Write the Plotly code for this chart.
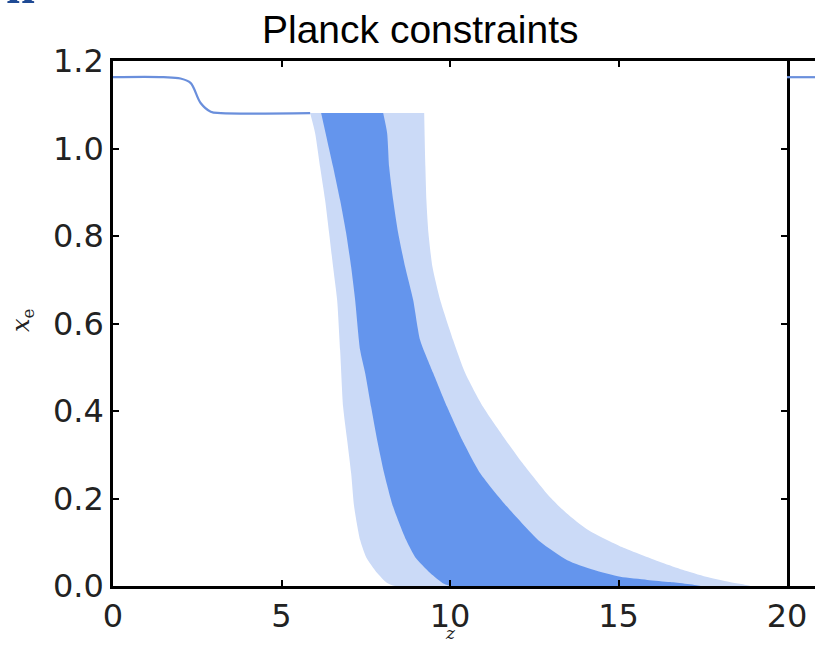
import plotly.graph_objects as go

# Fiducial ionisation history (helium double reionisation step at low z)
line_z = [0.0, 1.5, 2.0, 2.3, 2.6, 2.9, 3.2, 5.85]
line_xe = [1.163, 1.163, 1.160, 1.150, 1.104, 1.084, 1.081, 1.081]

# 95% band (light) edges
outer_left_z = [5.849, 5.998, 6.146, 6.295, 6.413, 6.532, 6.651, 6.740, 6.829, 6.948,
                7.067, 7.156, 7.334, 7.512, 7.838, 8.135, 8.373]
outer_left_xe = [1.081, 1.035, 0.958, 0.882, 0.807, 0.729, 0.654, 0.539, 0.409, 0.334,
                 0.258, 0.181, 0.105, 0.066, 0.030, 0.007, 0.0]
outer_right_z = [9.234, 9.250, 9.270, 9.300, 9.360, 9.480, 9.709, 10.095, 10.451, 10.986,
                 11.650, 12.150, 12.550, 12.970, 13.450, 14.100, 15.100, 16.300, 16.900,
                 17.600, 18.300, 18.900]
outer_right_xe = [1.081, 1.019, 0.958, 0.882, 0.807, 0.729, 0.654, 0.562, 0.487, 0.409,
                  0.334, 0.281, 0.242, 0.203, 0.167, 0.128, 0.089, 0.053, 0.037,
                  0.021, 0.009, 0.0]

# 68% band (dark) edges
inner_left_z = [6.176, 6.354, 6.532, 6.740, 6.918, 7.067, 7.185, 7.334, 7.482, 7.660,
                7.838, 8.046, 8.313, 8.700, 8.967, 9.412, 9.822, 10.036]
inner_left_xe = [1.081, 1.019, 0.958, 0.882, 0.807, 0.729, 0.654, 0.539, 0.487, 0.409,
                 0.334, 0.258, 0.181, 0.105, 0.066, 0.030, 0.005, 0.0]
inner_right_z = [8.017, 8.135, 8.195, 8.314, 8.462, 8.670, 8.907, 9.115, 9.501, 9.917,
                 10.362, 10.897, 11.698, 12.678, 13.480, 14.252, 15.054, 15.855, 16.538,
                 17.429]
inner_right_xe = [1.081, 1.035, 0.958, 0.882, 0.807, 0.729, 0.654, 0.562, 0.487, 0.409,
                  0.334, 0.258, 0.181, 0.101, 0.059, 0.037, 0.021, 0.014, 0.009,
                  0.0]

# Neighbouring panel (only its left sliver is in frame)
next_z = [0.0, 0.83]
next_xe = [1.163, 1.163]

x_ticks = [0, 5, 10, 15, 20]
y_ticks = [0.0, 0.2, 0.4, 0.6, 0.8, 1.0, 1.2]
y_labels = ["0.0", "0.2", "0.4", "0.6", "0.8", "1.0", "1.2"]

DARK = "#6495ED"
LIGHT = "#cbdaf7"
LINE = "#6a8fdc"

fig = go.Figure()

fig.add_trace(go.Scatter(
    x=outer_left_z + outer_right_z[::-1],
    y=outer_left_xe + outer_right_xe[::-1],
    fill="toself", fillcolor=LIGHT, mode="lines",
    line=dict(width=0, shape="spline", smoothing=0.6),
    hoverinfo="skip", showlegend=False))
fig.add_trace(go.Scatter(
    x=inner_left_z + inner_right_z[::-1],
    y=inner_left_xe + inner_right_xe[::-1],
    fill="toself", fillcolor=DARK, mode="lines",
    line=dict(width=0, shape="spline", smoothing=0.6),
    hoverinfo="skip", showlegend=False))
fig.add_trace(go.Scatter(
    x=line_z, y=line_xe, mode="lines", line=dict(color=LINE, width=2.2, shape="spline"),
    showlegend=False))
fig.add_trace(go.Scatter(
    x=next_z, y=next_xe, xaxis="x2", yaxis="y", mode="lines",
    line=dict(color=LINE, width=2.2), showlegend=False))

W, H = 815, 645
L, R, T, B = 113, 0, 61, 59
PW, PH = W - L - R, H - T - B
split = (787 - L) / PW


def px(x):
    return (x - L) / PW


def py(y):
    return (H - B - y) / PH


tick_font = dict(family="DejaVu Sans", size=32, color="#222")

fig.update_layout(
    width=W, height=H,
    margin=dict(l=L, r=R, t=T, b=B, pad=0, autoexpand=False),
    paper_bgcolor="white", plot_bgcolor="white",
    xaxis=dict(domain=[0, split], range=[0, 20], tickvals=x_ticks,
               ticks="inside", ticklen=6, tickwidth=1.5, tickcolor="black",
               showline=True, linewidth=2.5, linecolor="black", mirror="ticks",
               showgrid=False, zeroline=False, tickfont=tick_font, automargin=False),
    xaxis2=dict(domain=[split, 1], range=[0, 0.83], anchor="y",
                showline=True, linewidth=2.5, linecolor="black", mirror=True,
                showgrid=False, zeroline=False, showticklabels=False, ticks="",
                automargin=False),
    yaxis=dict(range=[0, 1.2], tickvals=y_ticks, ticktext=y_labels,
               ticks="inside", ticklen=6, tickwidth=1.5, tickcolor="black",
               showline=True, linewidth=2.5, linecolor="black", mirror="ticks",
               showgrid=False, zeroline=False, tickfont=tick_font, automargin=False),
    annotations=[
        dict(text="Planck constraints", xref="paper", yref="paper",
             x=px(420), y=py(29), xanchor="center", yanchor="middle", showarrow=False,
             font=dict(family="Liberation Sans", size=39, color="black")),
        dict(text="<i>x</i><sub>e</sub>", xref="paper", yref="paper",
             x=px(22), y=py(320), xanchor="center", yanchor="middle",
             textangle=-90, showarrow=False,
             font=dict(family="DejaVu Serif", size=24, color="#222")),
        dict(text="<i>z</i>", xref="paper", yref="paper",
             x=px(450), y=py(633), xanchor="center", yanchor="middle", showarrow=False,
             font=dict(family="DejaVu Serif", size=17, color="#222")),
        dict(text="<b>n</b>", xref="paper", yref="paper",
             x=px(20), y=py(16), xanchor="center", yanchor="bottom", showarrow=False,
             font=dict(family="Liberation Serif", size=52, color="#1f4a94")),
    ],
)

fig.write_html("out.html")
